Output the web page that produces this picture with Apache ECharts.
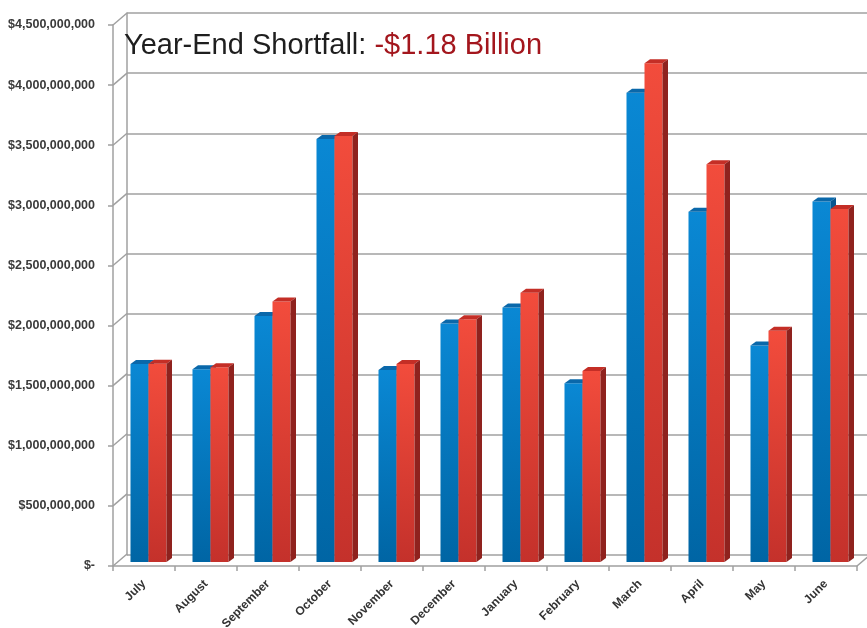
<!DOCTYPE html>
<html>
<head>
<meta charset="utf-8">
<script src="https://cdn.jsdelivr.net/npm/echarts@6/dist/echarts.min.js"></script>
<style>html,body{margin:0;padding:0;background:#fff;}#c{width:867px;height:628px;}</style>
</head>
<body>
<div id="c"></div>
<script>
var months = ['July','August','September','October','November','December','January','February','March','April','May','June'];
var seriesA = [1647000000,1603000000,2047000000,3519000000,1597000000,1983000000,2116000000,1487000000,3904000000,2914000000,1800000000,2998000000];
var seriesB = [1650000000,1620000000,2166000000,3544000000,1647000000,2019000000,2240000000,1589000000,4149000000,3309000000,1924000000,2937000000];
var yTicks = [0,500000000,1000000000,1500000000,2000000000,2500000000,3000000000,3500000000,4000000000,4500000000];
var titleMain = 'Year-End Shortfall: ';
var titleValue = '-$1.18 Billion';

var DEPTH_X = 14, DEPTH_Y = -12;   // wall depth
var BAR_DX = 4.5, BAR_DY = -4;     // bar placement depth
var BAR_W = 18, SIDE_X = 5.5, SIDE_Y = -4;
var GRID_COL = '#a0a0a0';

function fmt(v){
  if (v === 0) return '$-';
  return '$' + String(v).replace(/\B(?=(\d{3})+(?!\d))/g, ',');
}

var chart = echarts.init(document.getElementById('c'));

function lg(top, bottom){
  return new echarts.graphic.LinearGradient(0,0,0,1,[{offset:0,color:top},{offset:1,color:bottom}]);
}

var palette = [
  {front: lg('#0a88d4','#0065a4'), top:'#0a68aa', side:'#08558f'},
  {front: lg('#f24c3c','#c4312b'), top:'#c42e26', side:'#8f221e'}
];

function barRenderer(k){
  return function(params, api){
    var i = api.value(0), v = api.value(1);
    var c = api.coord([i, v]);
    var c0 = api.coord([i, 0]);
    var x0 = (k === 0 ? c[0] - BAR_W : c[0]) + BAR_DX;
    var x1 = x0 + BAR_W;
    var yt = c[1] + BAR_DY;
    var yb = c0[1] + BAR_DY;
    var p = palette[k];
    return {type:'group', children:[
      {type:'rect', shape:{x:x0, y:yt, width:BAR_W, height:yb-yt}, style:{fill:p.front}},
      {type:'polygon', shape:{points:[[x0,yt],[x1,yt],[x1+SIDE_X,yt+SIDE_Y],[x0+SIDE_X,yt+SIDE_Y]]}, style:{fill:p.top}},
      {type:'polygon', shape:{points:[[x1,yt],[x1+SIDE_X,yt+SIDE_Y],[x1+SIDE_X,yb+SIDE_Y],[x1,yb]]}, style:{fill:p.side}}
    ]};
  };
}

function diagRenderer(params, api){
  var v = api.value(0);
  var r = params.coordSys;
  var y = api.coord([0, v])[1];
  var children = [{type:'line', shape:{x1:r.x, y1:y, x2:r.x+DEPTH_X, y2:y+DEPTH_Y}, style:{stroke:GRID_COL, lineWidth:1.5}}];
  if (v === 0) {
    children.push({type:'line', shape:{x1:r.x+r.width, y1:y, x2:r.x+r.width+DEPTH_X, y2:y+DEPTH_Y}, style:{stroke:GRID_COL, lineWidth:1.5}});
  }
  return {type:'group', children:children};
}

var option = {
  animation:false,
  backgroundColor:'#fff',
  title:{
    text:'{a|' + titleMain + '}{b|' + titleValue + '}',
    left:119, top:26,
    textStyle:{fontWeight:'normal', rich:{
      a:{fontFamily:'Liberation Sans', fontWeight:'normal', fontSize:29, color:'#1e1e1e'},
      b:{fontFamily:'Liberation Sans', fontWeight:'normal', fontSize:29, color:'#a3161d'}
    }}
  },
  grid:[
    {left:113, top:25, width:744, height:541, containLabel:false, outerBoundsMode:'none'},
    {left:127, top:13, width:744, height:542, containLabel:false, outerBoundsMode:'none'}
  ],
  xAxis:[
    {type:'category', gridIndex:0, data:months, boundaryGap:true,
     axisLine:{show:true, lineStyle:{color:GRID_COL, width:1.5}},
     axisTick:{show:true, length:5, lineStyle:{color:GRID_COL, width:1.5}},
     axisLabel:{rotate:45, margin:16, fontFamily:'Liberation Sans', fontWeight:'bold', fontSize:12, color:'#333', interval:0},
     splitLine:{show:false}},
    {type:'category', gridIndex:1, data:months, show:false}
  ],
  yAxis:[
    {type:'value', gridIndex:0, min:0, max:4500000000, interval:500000000,
     axisLine:{show:true, lineStyle:{color:GRID_COL, width:1.5}},
     axisTick:{show:true, length:5, lineStyle:{color:GRID_COL, width:1.5}},
     axisLabel:{formatter:fmt, margin:18, fontFamily:'Liberation Sans', fontWeight:'bold', fontSize:12.5, color:'#3a3a3a'},
     splitLine:{show:false}},
    {type:'value', gridIndex:1, min:0, max:4500000000, interval:500000000,
     axisLine:{show:true, lineStyle:{color:GRID_COL, width:1.5}},
     axisTick:{show:false}, axisLabel:{show:false},
     splitLine:{show:true, lineStyle:{color:GRID_COL, width:1.5}}}
  ],
  series:[
    {type:'custom', xAxisIndex:0, yAxisIndex:0, renderItem:diagRenderer, data:yTicks.map(function(v){return [v];}), encode:{y:0}, silent:true, z:1},
    {type:'custom', xAxisIndex:0, yAxisIndex:0, renderItem:barRenderer(0), data:seriesA.map(function(v,i){return [i,v];}), z:3},
    {type:'custom', xAxisIndex:0, yAxisIndex:0, renderItem:barRenderer(1), data:seriesB.map(function(v,i){return [i,v];}), z:4}
  ]
};
chart.setOption(option);
</script>
</body>
</html>
